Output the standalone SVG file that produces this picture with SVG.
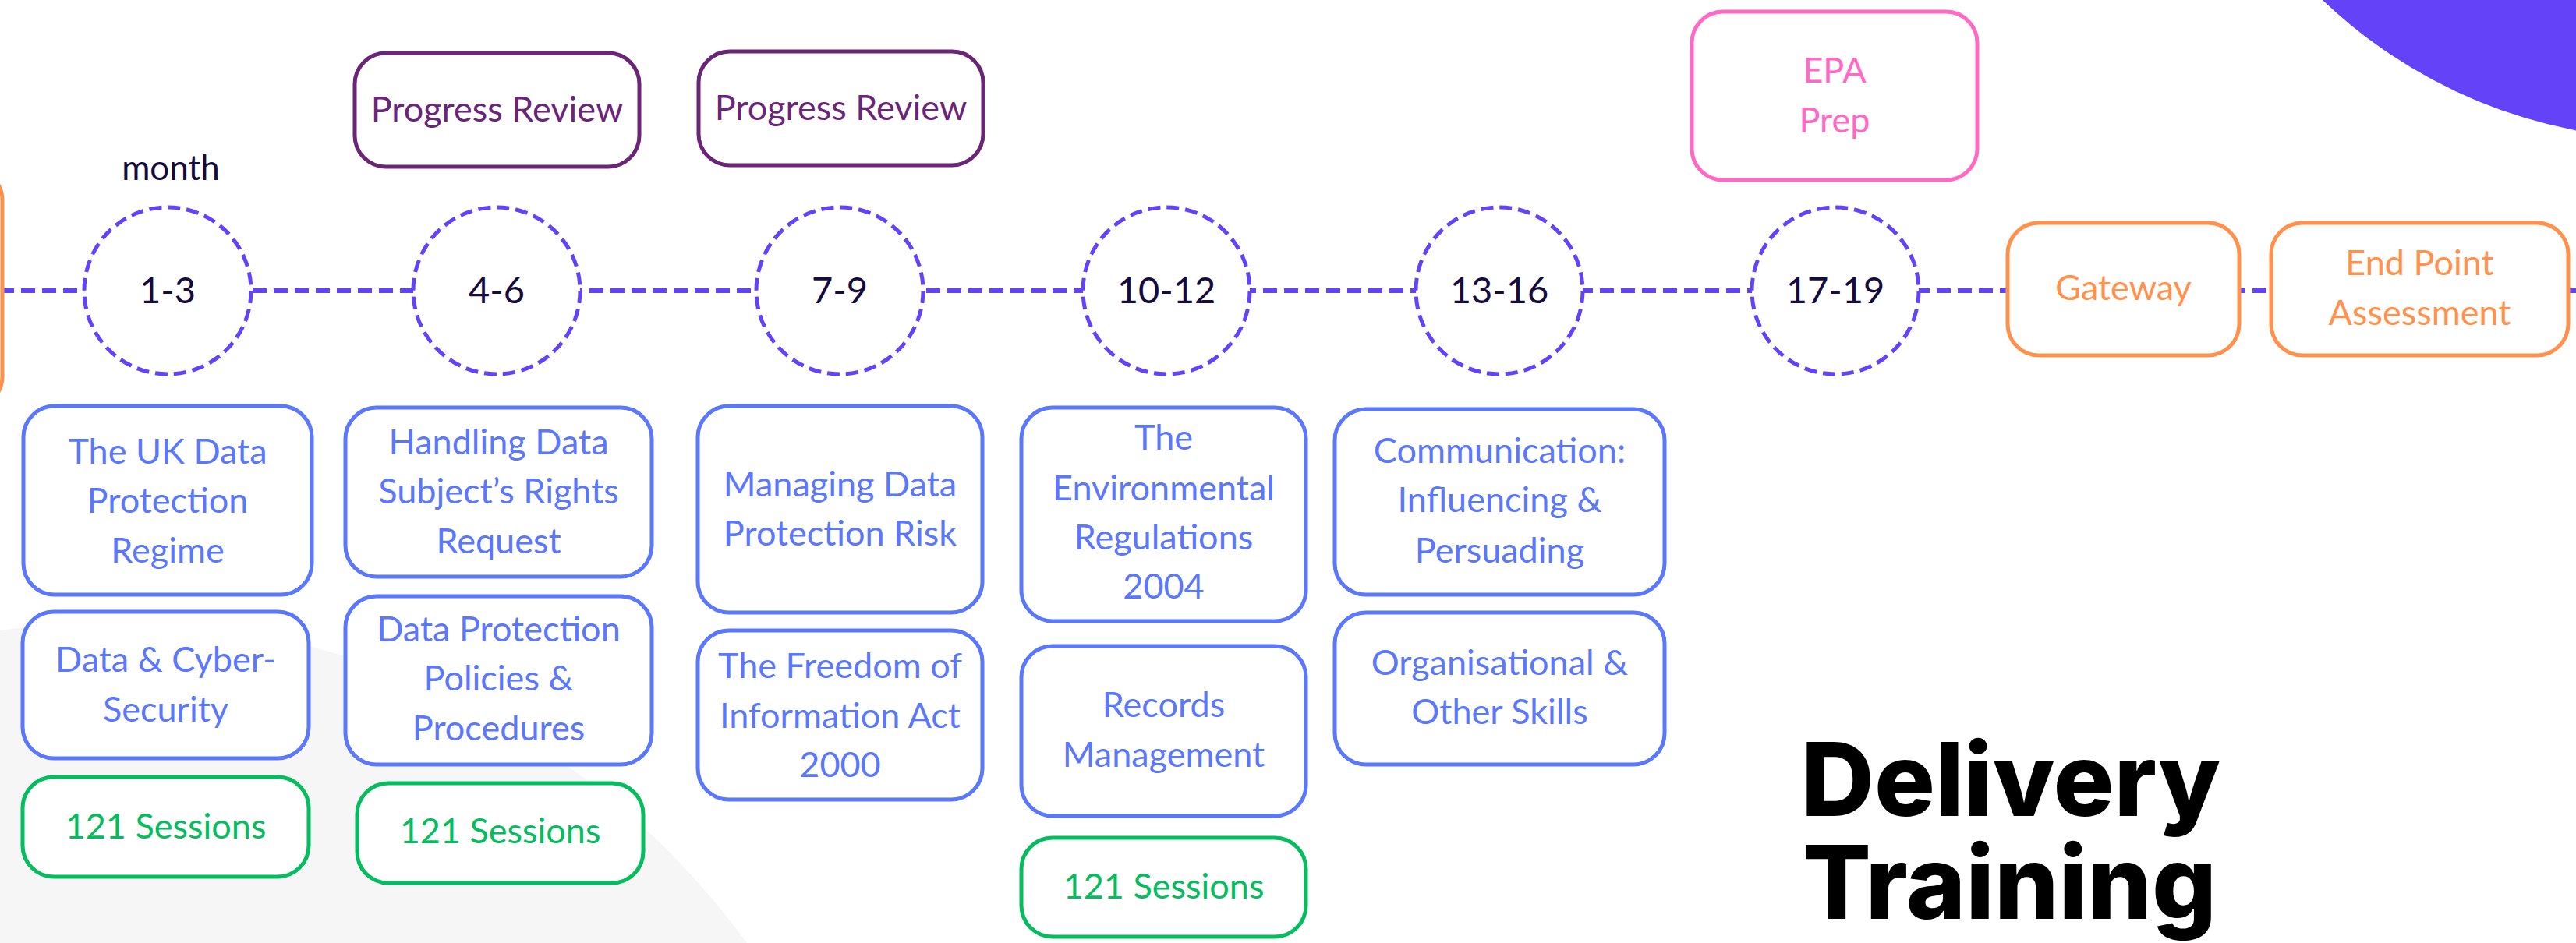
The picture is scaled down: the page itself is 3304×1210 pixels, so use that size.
<svg xmlns="http://www.w3.org/2000/svg" width="3304" height="1210" viewBox="0 0 3304 1210">
<style>
.t{font-family:Lato,"Liberation Sans",sans-serif;font-size:45px;text-anchor:middle}
.blue rect{fill:#fff;stroke:#5b77fc;stroke-width:5}
.blue text{fill:#5b77fc}
.green rect{fill:#fff;stroke:#05bd5e;stroke-width:5}
.green text{fill:#05bd5e}
.pr rect{fill:#fff;stroke:#6a2577;stroke-width:5}
.pr text{fill:#6a2577}
.pink rect{fill:#fff;stroke:#ff69c4;stroke-width:5}
.pink text{fill:#ff69c4}
.orange rect{fill:#fff;stroke:#ff914d;stroke-width:5}
.orange text{fill:#ff914d}
.month circle{fill:#fff;stroke:#6442f8;stroke-width:5;stroke-dasharray:16 8}
.month text,.dark{fill:#150b3c}
.month text{font-size:47px}
.tl{stroke:#6442f8;stroke-width:6;stroke-dasharray:18 9;fill:none}
.title{font-family:Inter,"Liberation Sans",sans-serif;font-weight:800;font-size:130px;fill:#000}
</style>
<rect width="3304" height="1210" fill="#fff"/>
<circle cx="149" cy="1798" r="1000" fill="#f6f6f6"/>
<circle cx="3426" cy="-469" r="648" fill="#6442f8"/>

<g id="connectors">
<line class="tl" x1="0" y1="373" x2="3304" y2="373"/>
</g>

<g id="start" class="orange"><rect x="-400" y="217" width="403" height="306" rx="40"/></g>

<text class="t dark" x="219" y="231" style="font-size:44px">month</text>

<g id="m1" class="month t"><circle cx="215" cy="373" r="107"/><text x="215" y="389">1-3</text></g>
<g id="m2" class="month t"><circle cx="637" cy="373" r="107"/><text x="637" y="389">4-6</text></g>
<g id="m3" class="month t"><circle cx="1077" cy="373" r="107"/><text x="1077" y="389">7-9</text></g>
<g id="m4" class="month t"><circle cx="1496" cy="373" r="107"/><text x="1496" y="389">10-12</text></g>
<g id="m5" class="month t"><circle cx="1923" cy="373" r="107"/><text x="1923" y="389">13-16</text></g>
<g id="m6" class="month t"><circle cx="2354" cy="373" r="107"/><text x="2354" y="389">17-19</text></g>

<g id="pr1" class="pr t"><rect x="455" y="68" width="365" height="146" rx="40"/><text x="637.5" y="156">Progress Review</text></g>
<g id="pr2" class="pr t"><rect x="896" y="66" width="365" height="146" rx="40"/><text x="1078.5" y="154">Progress Review</text></g>
<g id="epa" class="pink t"><rect x="2170" y="15" width="366" height="216" rx="40"/><text x="2353" y="106">EPA</text><text x="2353" y="170">Prep</text></g>
<g id="gateway" class="orange t"><rect x="2575" y="286" width="297" height="170" rx="40"/><text x="2723.5" y="385">Gateway</text></g>
<g id="epa-end" class="orange t"><rect x="2913" y="286" width="381" height="170" rx="40"/><text x="3103.5" y="353">End Point</text><text x="3103.5" y="417">Assessment</text></g>

<g id="c1a" class="blue t"><rect x="30" y="521" width="370" height="242" rx="40"/><text x="215" y="595">The UK Data</text><text x="215" y="658">Protection</text><text x="215" y="722">Regime</text></g>
<g id="c1b" class="blue t"><rect x="29" y="785" width="367" height="188" rx="40"/><text x="212.5" y="862">Data &amp; Cyber-</text><text x="212.5" y="926">Security</text></g>
<g id="c1c" class="green t"><rect x="29" y="997" width="367" height="128" rx="40"/><text x="212.5" y="1076">121 Sessions</text></g>

<g id="c2a" class="blue t"><rect x="443" y="523" width="393" height="217" rx="40"/><text x="639.5" y="583">Handling Data</text><text x="639.5" y="646">Subject’s Rights</text><text x="639.5" y="710">Request</text></g>
<g id="c2b" class="blue t"><rect x="443" y="765" width="393" height="216" rx="40"/><text x="639.5" y="823">Data Protection</text><text x="639.5" y="886">Policies &amp;</text><text x="639.5" y="950">Procedures</text></g>
<g id="c2c" class="green t"><rect x="458" y="1005" width="367" height="128" rx="40"/><text x="641.5" y="1082">121 Sessions</text></g>

<g id="c3a" class="blue t"><rect x="895" y="521" width="365" height="265" rx="40"/><text x="1077.5" y="637">Managing Data</text><text x="1077.5" y="700">Protection Risk</text></g>
<g id="c3b" class="blue t"><rect x="895" y="809" width="365" height="217" rx="40"/><text x="1077.5" y="870">The Freedom of</text><text x="1077.5" y="934">Information Act</text><text x="1077.5" y="997">2000</text></g>

<g id="c4a" class="blue t"><rect x="1310" y="523" width="365" height="274" rx="40"/><text x="1492.5" y="577">The</text><text x="1492.5" y="642">Environmental</text><text x="1492.5" y="705">Regulations</text><text x="1492.5" y="768">2004</text></g>
<g id="c4b" class="blue t"><rect x="1310" y="829" width="365" height="218" rx="40"/><text x="1492.5" y="920">Records</text><text x="1492.5" y="984">Management</text></g>
<g id="c4c" class="green t"><rect x="1310" y="1075" width="365" height="127" rx="40"/><text x="1492.5" y="1153">121 Sessions</text></g>

<g id="c5a" class="blue t"><rect x="1712" y="525" width="423" height="238" rx="40"/><text x="1923.5" y="594">Communication:</text><text x="1923.5" y="657">Influencing &amp;</text><text x="1923.5" y="722">Persuading</text></g>
<g id="c5b" class="blue t"><rect x="1712" y="786" width="423" height="195" rx="40"/><text x="1923.5" y="866">Organisational &amp;</text><text x="1923.5" y="929">Other Skills</text></g>

<g id="title"><text class="title"><tspan x="2310" y="1047">Delivery</tspan><tspan x="2312" y="1179">Training</tspan></text></g>
</svg>
